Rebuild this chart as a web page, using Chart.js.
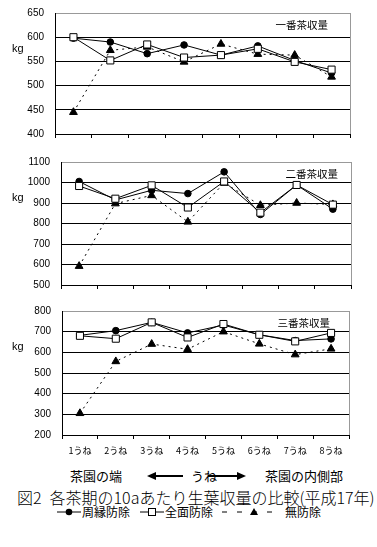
<!DOCTYPE html>
<html>
<head>
<meta charset="utf-8">
<script src="https://cdn.jsdelivr.net/npm/chart.js@4.4.0/dist/chart.umd.min.js"></script>
<style>
  body { margin: 0; background: #fff; width: 377px; height: 547px; position: relative; overflow: hidden;
         font-family: "Noto Sans CJK JP", sans-serif; color: #000; }
  .box { position: absolute; left: 0; width: 377px; }
  .t { position: absolute; white-space: nowrap; line-height: 1; }
  .lg { position: absolute; top: 505px; font-size: 12px; line-height: 14px; white-space: nowrap; }
</style>
</head>
<body>
<div class="box" style="top:0;height:145px"><canvas id="c1"></canvas></div>
<div class="box" style="top:149px;height:147px"><canvas id="c2"></canvas></div>
<div class="box" style="top:298px;height:160px"><canvas id="c3"></canvas></div>

<div class="t" style="left:70px;top:469px;font-size:13px">茶園の端</div>
<svg class="t" style="left:146px;top:470px" width="40" height="12"><line x1="6" y1="6" x2="37" y2="6" stroke="#000" stroke-width="2"/><polygon points="1,6 10,2 10,10" fill="#000"/></svg>
<div class="t" style="left:191px;top:469px;font-size:13px">うね</div>
<svg class="t" style="left:207px;top:470px" width="40" height="12"><line x1="1" y1="6" x2="32" y2="6" stroke="#000" stroke-width="2"/><polygon points="39,6 30,2 30,10" fill="#000"/></svg>
<div class="t" style="left:265px;top:469px;font-size:13px">茶園の内側部</div>
<div class="t" style="left:17px;top:489px;font-size:16px;font-weight:300"><span style="margin-right:8px">図2</span>各茶期の10aあたり生葉収量の比較(平成17年)</div>
<div id="legend"></div>

<script>
// rows (categories)
const rows = ['1うね', '2うね', '3うね', '4うね', '5うね', '6うね', '7うね', '8うね'];
const seriesNames = ['周縁防除', '全面防除', '無防除'];

// 一番茶収量 (kg/10a)
const first_periphery = [598, 590, 566, 584, 563, 582, 552, 526];
const first_whole     = [600, 552, 585, 558, 563, 576, 549, 533];
const first_none      = [445, 573, 580, 549, 586, 565, 563, 518];
const first_ticks     = [400, 450, 500, 550, 600, 650];

// 二番茶収量
const second_periphery = [1005, 915, 962, 946, 1052, 844, 988, 870];
const second_whole     = [983, 921, 986, 878, 1005, 853, 988, 892];
const second_none      = [592, 897, 937, 808, 998, 889, 900, 893];
const second_ticks     = [500, 600, 700, 800, 900, 1000, 1100];

// 三番茶収量
const third_periphery = [682, 705, 745, 694, 732, 685, 657, 665];
const third_whole     = [680, 666, 745, 672, 737, 685, 653, 694];
const third_none      = [305, 556, 640, 615, 700, 641, 589, 617];
const third_ticks     = [200, 300, 400, 500, 600, 700, 800];

const styles = [
  { pointStyle: 'circle', pointRadius: 3.3, pointBackgroundColor: '#000', borderDash: [], order: 2 },
  { pointStyle: 'rect', pointRadius: 5, pointBackgroundColor: '#fff', borderDash: [], order: 0 },
  { pointStyle: 'triangle', pointRadius: 4.5, pointBackgroundColor: '#000', borderDash: [2, 4], order: 1 }
];

const framePlugin = {
  id: 'frame',
  beforeDatasetsDraw(chart) {
    const { ctx, chartArea: a } = chart;
    ctx.save();
    ctx.strokeStyle = '#999';
    ctx.lineWidth = 1;
    ctx.beginPath();
    ctx.moveTo(Math.round(a.right) + 0.5, Math.round(a.top));
    ctx.lineTo(Math.round(a.right) + 0.5, Math.round(a.bottom));
    ctx.stroke();
    ctx.restore();
  },
  afterDraw(chart, args, opts) {
    const { ctx, chartArea: a } = chart;
    ctx.save();
    ctx.fillStyle = '#000';
    ctx.textBaseline = 'middle';
    ctx.font = '11px "Liberation Sans", Arial, sans-serif';
    ctx.textAlign = 'left';
    ctx.fillText('kg', 12, a.top + 36);
    ctx.font = '10.5px "Noto Sans CJK JP", sans-serif';
    ctx.textAlign = 'right';
    ctx.fillText(opts.title, a.right - opts.titleGap, a.top + 12);
    ctx.restore();
  }
};

function makeChart(id, title, values, ticks, axisW, padRight, xAxisH, showX, titleGap) {
  const lo = ticks[0], hi = ticks[ticks.length - 1];
  return new Chart(document.getElementById(id), {
    type: 'line',
    data: {
      labels: rows,
      datasets: values.map((v, i) => Object.assign({
        label: seriesNames[i],
        data: v,
        borderColor: '#000',
        borderWidth: 1,
        pointBorderColor: '#000',
        pointBorderWidth: 1,
        tension: 0,
        fill: false
      }, styles[i]))
    },
    options: {
      responsive: true,
      maintainAspectRatio: false,
      animation: false,
      layout: { padding: { top: 13, right: padRight, left: 0, bottom: 0 } },
      plugins: {
        legend: { display: false },
        tooltip: { enabled: false },
        frame: { title: title, titleGap: titleGap }
      },
      scales: {
        x: {
          offset: true,
          grid: { display: true, drawOnChartArea: false, drawTicks: true, tickLength: 4, offset: true, color: '#000' },
          border: { display: true, color: '#000' },
          ticks: { display: showX, color: '#000', padding: 6, maxRotation: 0,
                   font: { family: '"Noto Sans CJK JP", sans-serif', size: 9 } },
          afterFit: s => { s.height = xAxisH; s.paddingLeft = 0; s.paddingRight = 0; }
        },
        y: {
          min: lo, max: hi,
          grid: { drawTicks: false, color: c => (c.tick && c.tick.value === hi ? '#999' : '#000') },
          border: { display: true, color: '#000' },
          ticks: { stepSize: ticks[1] - ticks[0], padding: 11, color: '#000',
                   callback: v => String(v),
                   font: { family: '"Liberation Sans", Arial, sans-serif', size: 10 } },
          afterFit: s => { s.width = axisW; s.paddingTop = 0; s.paddingBottom = 0; }
        }
      }
    },
    plugins: [framePlugin]
  });
}

makeChart('c1', '一番茶収量', [first_periphery, first_whole, first_none], first_ticks, 55, 27, 11, false, 22);
makeChart('c2', '二番茶収量', [second_periphery, second_whole, second_none], second_ticks, 61, 26, 11, false, 13);
makeChart('c3', '三番茶収量', [third_periphery, third_whole, third_none], third_ticks, 62, 28, 23, true, 19);

// legend: marker + name, placed along the bottom row
const marks = [
  '<circle cx="12" cy="7" r="3.3" fill="#000"/>',
  '<rect x="8.5" y="3.5" width="7" height="7" fill="#fff" stroke="#000"/>',
  '<polygon points="32,3 36,10 28,10" fill="#000"/>'
];
const legendX = [[57, 24, 82], [140, 24, 165], [222, 56, 285]];
document.getElementById('legend').innerHTML = seriesNames.map((n, i) => {
  const [mx, mw, tx] = legendX[i];
  const line = i === 2
    ? '<line x1="0" y1="7" x2="' + mw + '" y2="7" stroke="#000" stroke-width="1" stroke-dasharray="5,10"/>'
    : '<line x1="0" y1="7" x2="' + mw + '" y2="7" stroke="#000" stroke-width="1"/>';
  return '<svg class="lg" style="left:' + mx + 'px" width="' + mw + '" height="14">' + line + marks[i] + '</svg>' +
         '<div class="lg" style="left:' + tx + 'px">' + n + '</div>';
}).join('');
</script>
</body>
</html>
